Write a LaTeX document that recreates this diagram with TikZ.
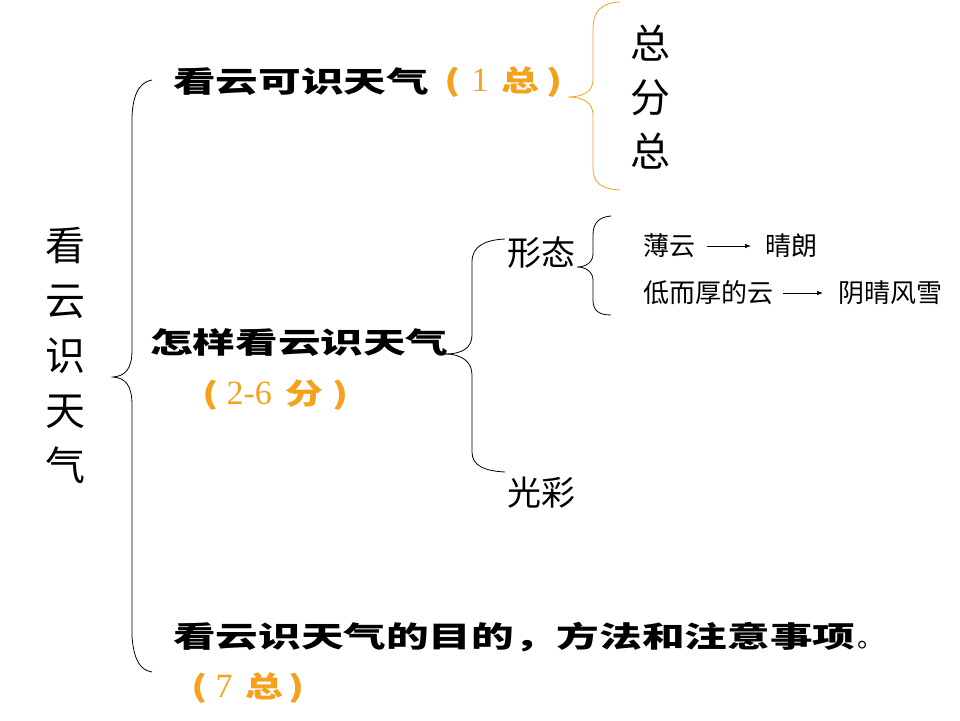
\documentclass[tikz,border=0pt]{standalone}
\usepackage{fontspec}
\newfontfamily\cjk{Noto Sans CJK SC}
\newfontfamily\cjkb{Noto Sans CJK SC Black}
\newfontfamily\serifnum{Liberation Serif}
\usetikzlibrary{arrows.meta}
\definecolor{orng}{HTML}{F5A11C}
\newcommand{\opar}[1]{\makebox[#1]{\scalebox{1.4}[1]{(}}}
\newcommand{\cpar}[1]{\makebox[#1]{\scalebox{1.4}[1]{)}}}
\newcommand{\onum}[2]{\makebox[#1]{\serifnum\fontsize{34}{34}\selectfont #2}}
\newcommand{\ochar}[2]{\makebox[#1]{\scalebox{1.3}[1]{#2}}}
\begin{document}
\begin{tikzpicture}[x=1pt,y=-1pt,
  brush/.style={inner sep=0pt,font=\cjkb\fontsize{29}{29}\selectfont,text=black},
  orangetxt/.style={inner sep=0pt,font=\cjkb\fontsize{29}{29}\selectfont,text=orng},
  plain/.style={inner sep=0pt,font=\cjk\fontsize{40}{40}\selectfont},
  mid/.style={inner sep=0pt,font=\cjk\fontsize{34}{34}\selectfont},
  small/.style={inner sep=0pt,font=\cjk\fontsize{26}{26}\selectfont},
  bracepath/.style={line width=0.8pt},
  arr/.style={-{Latex[length=6pt,width=4.5pt]},line width=0.7pt}]
\useasboundingbox (0,0) rectangle (960,720);
% left vertical title
\node[plain,align=center] (title) at (65,355)
  {看\\[15pt]云\\[15pt]识\\[15pt]天\\[15pt]气};
% big left brace
\draw[bracepath] (152,80) .. controls (138,82) and (132,98) .. (132,120) -- (132,350)
  .. controls (132,368) and (126,376) .. (113,377)
  .. controls (126,378) and (132,386) .. (132,405) -- (132,637)
  .. controls (134,660) and (140,670) .. (152,672);
% line 1
\node[brush,anchor=west] (l1) at (173,82) {\scalebox{1.47}[1]{看云可识天气}};
\node[orangetxt,anchor=west] (o1) at (441,82) {\opar{22pt}\onum{34pt}{1}\ochar{46pt}{总}\cpar{22pt}};
% orange brace
\draw[orng,line width=0.8pt] (620,2) .. controls (600,3) and (593,12) .. (593,30) -- (593,80)
  .. controls (593,92) and (582,97) .. (568,97)
  .. controls (582,97) and (593,102) .. (593,115) -- (593,168)
  .. controls (593,182) and (600,189) .. (620,190);
\node[plain,align=center] (zfz) at (650,97) {总\\[14pt]分\\[14pt]总};
% line 2
\node[brush,anchor=west] (l2) at (150,343) {\scalebox{1.47}[1]{怎样看云识天气}};
\node[orangetxt,anchor=west] (o2) at (200,395) {\opar{20pt}\onum{58pt}{2-6}\ochar{52pt}{分}\cpar{20pt}};
% middle brace
\coordinate (tip2) at (445,354);
\node[mid,anchor=west] (xt) at (507,253) {形态};
\node[mid,anchor=west] (gc) at (507,493) {光彩};
\draw[bracepath] (tip2) .. controls (462,354) and (472,348) .. (472,335) -- (472,262)
  .. controls (472,246) and (485,240) .. (505,239);
\draw[bracepath] (tip2) .. controls (462,354) and (472,362) .. (472,375) -- (472,452)
  .. controls (472,466) and (485,471) .. (505,472);
% small brace
\draw[bracepath] (611,216) .. controls (598,217) and (593,224) .. (593,235) -- (593,254)
  .. controls (593,262) and (586,267) .. (577,267)
  .. controls (586,267) and (593,272) .. (593,280) -- (593,300)
  .. controls (593,310) and (598,315) .. (611,315);
\node[small,anchor=west] (by) at (643,246) {薄云};
\node[small,anchor=west] (ql) at (765,246) {晴朗};
\node[small,anchor=west] (dy) at (643,293) {低而厚的云};
\node[small,anchor=west] (yq) at (838,293) {阴晴风雪};
\draw[arr] ([xshift=12pt]by.east) -- ([xshift=-14pt]ql.west);
\draw[arr] ([xshift=10pt]dy.east) -- ([xshift=-15pt]yq.west);
% line 3
\node[brush,anchor=west] (l3) at (173,637) {\scalebox{1.47}[1]{看云识天气的目的，方法和注意事项}\hspace{2pt}{\cjk\fontsize{26}{26}\selectfont 。}};
\node[orangetxt,anchor=west] (o3) at (190,688) {\opar{18pt}\onum{32pt}{7}\ochar{48pt}{总}\cpar{17pt}};
\end{tikzpicture}
\end{document}
